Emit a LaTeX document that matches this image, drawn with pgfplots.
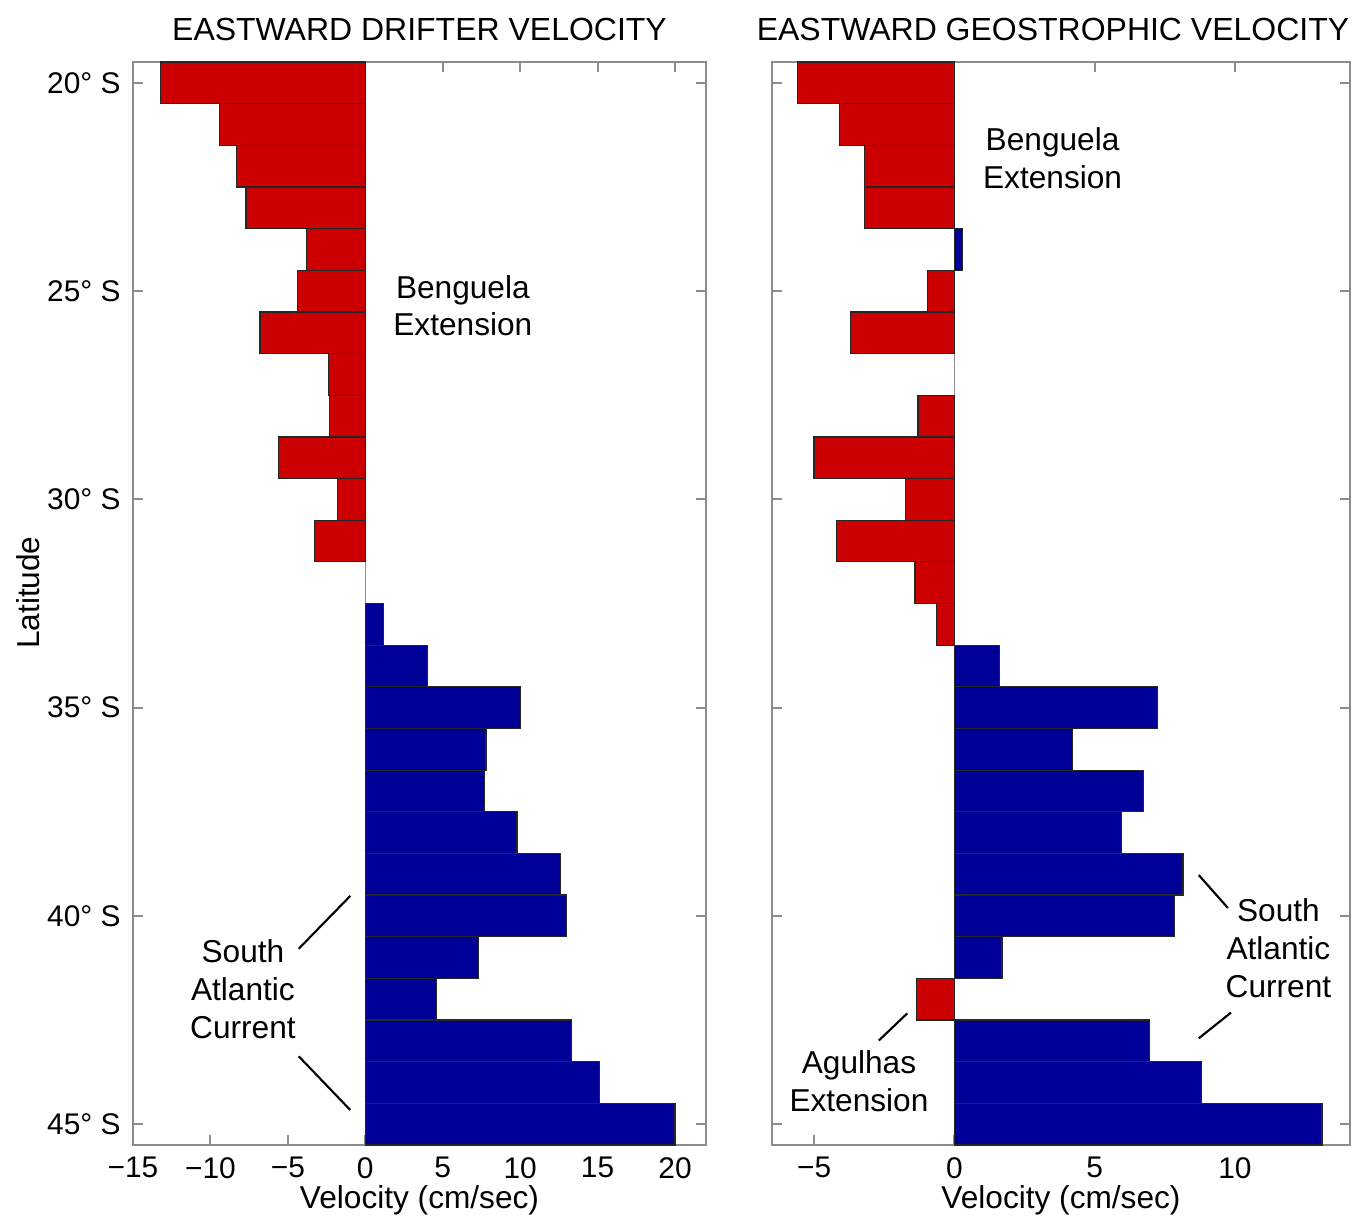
\documentclass[border=0pt]{standalone}
\usepackage{fontspec}
\setmainfont{Liberation Sans}
\usepackage{pgfplots}
\usepackage{pgfplotstable}
\pgfplotsset{compat=1.18}
\definecolor{barred}{RGB}{204,0,0}
\definecolor{barblue}{RGB}{0,0,153}
\definecolor{axgray}{RGB}{140,140,140}

% Eastward drifter velocity (cm/sec) by latitude (deg S)
\pgfplotstableread{
lat v
20 -13.2
21 -9.4
22 -8.3
23 -7.7
24 -3.8
25 -4.4
26 -6.8
27 -2.4
28 -2.3
29 -5.6
30 -1.8
31 -3.3
}\driftneg
\pgfplotstableread{
lat v
33 1.2
34 4.0
35 10.0
36 7.8
37 7.7
38 9.8
39 12.6
40 13.0
41 7.3
42 4.6
43 13.3
44 15.1
45 20.0
}\driftpos
% Eastward geostrophic velocity (cm/sec)
\pgfplotstableread{
lat v
20 -5.6
21 -4.1
22 -3.2
23 -3.2
25 -0.95
26 -3.7
28 -1.3
29 -5.0
30 -1.75
31 -4.2
32 -1.4
33 -0.65
42 -1.35
}\geoneg
\pgfplotstableread{
lat v
24 0.3
34 1.6
35 7.25
36 4.2
37 6.75
38 5.95
39 8.15
40 7.85
41 1.7
43 6.95
44 8.8
45 13.1
}\geopos

\tikzset{annot/.style={font=\fontsize{9}{10.8}\selectfont, align=center}}
\pgfplotsset{
  panel/.style={
    scale only axis, height=108.3mm,
    ymin=19.5, ymax=45.5, y dir=reverse,
    ytick={20,25,30,35,40,45},
    tick align=inside, major tick length=1mm,
    axis line style={draw=axgray, line width=0.7pt},
    every tick/.style={draw=axgray, line width=0.6pt},
    tick label style={font=\fontsize{8.5}{10}\selectfont},
    label style={font=\fontsize{9}{11}\selectfont},
    xlabel={Velocity (cm/sec)},
    xlabel style={at={(axis description cs:0.5,0)}, anchor=base, yshift=-6.3mm},
    clip=false,
  },
  barstyle/.style={xbar, bar width=1, bar shift=0pt, draw=black!85, line width=0.35pt, fill=#1},
}

\begin{document}
\begin{tikzpicture}
\begin{axis}[panel, at={(0,0)}, anchor=south west, width=57.3mm,
  xmin=-15, xmax=22,
  xtick={-15,-10,-5,0,5,10,15,20},
  xticklabels={−15,−10,−5,0,5,10,15,20},
  yticklabels={20° S,25° S,30° S,35° S,40° S,45° S},
  ylabel={Latitude},
  ylabel style={at={(axis description cs:-0.183,0.51)}, anchor=center},
]
\addplot[axgray, line width=0.4pt] coordinates {(0,19.5) (0,45.5)};
\addplot[barstyle=barred] table[x=v, y=lat] {\driftneg};
\addplot[barstyle=barblue] table[x=v, y=lat] {\driftpos};
\node[annot] at (axis cs:6.3,25.35) {Benguela\\Extension};
\node[annot] at (axis cs:-7.9,41.75) {South\\Atlantic\\Current};
\draw[black, line width=0.6pt] (axis cs:-4.3,40.79) -- (axis cs:-0.97,39.52);
\draw[black, line width=0.6pt] (axis cs:-4.3,43.37) -- (axis cs:-0.97,44.66);
\node[font=\fontsize{9.1}{11}\selectfont, anchor=base] at (rel axis cs:0.5,1) [yshift=2.2mm] {EASTWARD DRIFTER VELOCITY};
\end{axis}
\begin{axis}[panel, at={(63.9mm,0)}, anchor=south west, width=57.8mm,
  xmin=-6.5, xmax=14.1,
  xtick={-5,0,5,10},
  xticklabels={−5,0,5,10},
  yticklabels={},
]
\addplot[axgray, line width=0.4pt] coordinates {(0,19.5) (0,45.5)};
\addplot[barstyle=barred] table[x=v, y=lat] {\geoneg};
\addplot[barstyle=barblue] table[x=v, y=lat] {\geopos};
\node[annot] at (axis cs:3.5,21.8) {Benguela\\Extension};
\node[annot] at (axis cs:11.55,40.77) {South\\Atlantic\\Current};
\node[annot] at (axis cs:-3.4,43.97) {Agulhas\\Extension};
\draw[black, line width=0.6pt] (axis cs:8.71,39.02) -- (axis cs:9.75,39.81);
\draw[black, line width=0.6pt] (axis cs:8.71,42.94) -- (axis cs:9.86,42.32);
\draw[black, line width=0.6pt] (axis cs:-2.69,42.99) -- (axis cs:-1.68,42.34);
\node[font=\fontsize{9.1}{11}\selectfont, anchor=base] at (rel axis cs:0.5,1) [yshift=2.2mm, xshift=-0.8mm] {EASTWARD GEOSTROPHIC VELOCITY};
\end{axis}
\pgfresetboundingbox
\path[use as bounding box] (-13.3mm,-7.6mm) rectangle (123.1mm,114.5mm);
\end{tikzpicture}
\end{document}
